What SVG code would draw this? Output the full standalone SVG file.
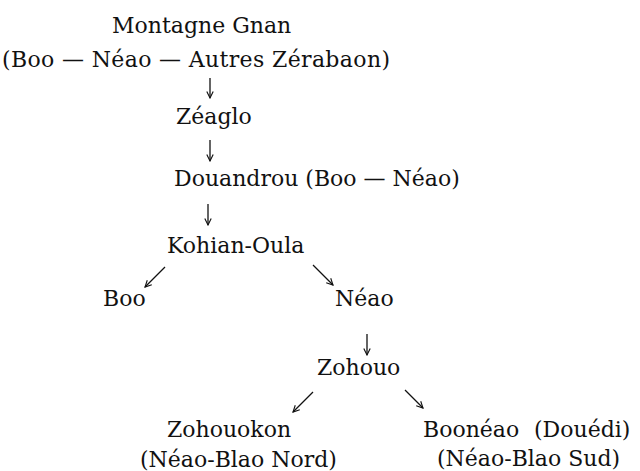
<svg xmlns="http://www.w3.org/2000/svg" width="640" height="471" viewBox="0 0 640 471">
<style>
text{font-family:"DejaVu Serif","Liberation Serif",serif;font-size:22px;fill:#111}
.c{stroke:#111;stroke-width:1.3;fill:none}
</style>
<defs>
<marker id="ah" viewBox="0 0 10 10" refX="9" refY="5" markerWidth="8" markerHeight="8" markerUnits="userSpaceOnUse" orient="auto">
<path d="M1,1 L9,5 L1,9" fill="none" stroke="#111" stroke-width="1.4"/>
</marker>
</defs>
<rect width="640" height="471" fill="#fff"/>
<g id="n-montagne"><text x="112" y="33">Montagne Gnan</text><text x="2" y="67" textLength="388">(Boo — Néao — Autres Zérabaon)</text></g>
<g id="n-zeaglo"><text x="176" y="124">Zéaglo</text></g>
<g id="n-douandrou"><text x="174" y="186">Douandrou (Boo — Néao)</text></g>
<g id="n-kohian"><text x="167" y="253">Kohian-Oula</text></g>
<g id="n-boo"><text x="103" y="306">Boo</text></g>
<g id="n-neao"><text x="335" y="306">Néao</text></g>
<g id="n-zohouo"><text x="317" y="375">Zohouo</text></g>
<g id="n-zohouokon"><text x="167" y="437">Zohouokon</text><text x="140" y="467">(Néao-Blao Nord)</text></g>
<g id="n-booneao"><text x="423" y="437">Boonéao</text><text x="534" y="437">(Douédi)</text><text x="437" y="466">(Néao-Blao Sud)</text></g>
<g id="connectors">
<line class="c" x1="210" y1="78" x2="210" y2="98" marker-end="url(#ah)"/>
<line class="c" x1="210" y1="140" x2="210" y2="161" marker-end="url(#ah)"/>
<line class="c" x1="208" y1="204" x2="208" y2="225" marker-end="url(#ah)"/>
<line class="c" x1="165" y1="267" x2="145" y2="287" marker-end="url(#ah)"/>
<line class="c" x1="313" y1="265" x2="333" y2="285" marker-end="url(#ah)"/>
<line class="c" x1="367" y1="334" x2="367" y2="355" marker-end="url(#ah)"/>
<line class="c" x1="313" y1="392" x2="293" y2="412" marker-end="url(#ah)"/>
<line class="c" x1="405" y1="390" x2="423" y2="408" marker-end="url(#ah)"/>
</g>
</svg>
